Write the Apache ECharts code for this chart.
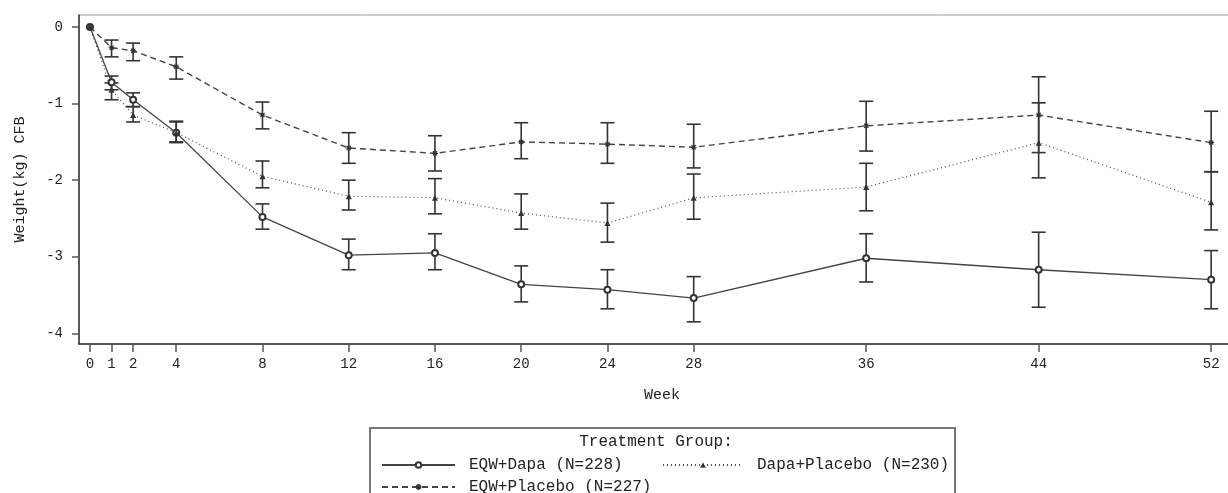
<!DOCTYPE html>
<html>
<head>
<meta charset="utf-8">
<script src="https://cdn.jsdelivr.net/npm/echarts@6/dist/echarts.min.js"></script>
<style>
html, body { margin: 0; padding: 0; background: #fff; }
#chart { width: 1228px; height: 493px; }
</style>
</head>
<body>
<div id="chart"></div>
<script>
// weeks on the x axis, and the ticks shown
var weeks = [0, 1, 2, 4, 8, 12, 16, 20, 24, 28, 36, 44, 52];
var yTicks = [-4, -3, -2, -1, 0];

var groupNames = ['EQW+Dapa (N=228)', 'Dapa+Placebo (N=230)', 'EQW+Placebo (N=227)'];

// EQW+Dapa: mean and error bar ends
var eqwDapaMean  = [0, -0.72, -0.95, -1.38, -2.48, -2.98, -2.95, -3.36, -3.43, -3.54, -3.02, -3.17, -3.30];
var eqwDapaLow   = [null, -0.82, -1.04, -1.51, -2.64, -3.17, -3.17, -3.59, -3.68, -3.85, -3.33, -3.66, -3.68];
var eqwDapaHigh  = [null, -0.64, -0.86, -1.23, -2.31, -2.77, -2.70, -3.12, -3.17, -3.26, -2.70, -2.68, -2.92];

// Dapa+Placebo
var dapaPlbMean  = [0, -0.82, -1.15, -1.38, -1.95, -2.21, -2.23, -2.43, -2.56, -2.23, -2.09, -1.51, -2.29];
var dapaPlbLow   = [null, -0.95, -1.24, -1.50, -2.10, -2.39, -2.44, -2.64, -2.81, -2.51, -2.40, -1.97, -2.65];
var dapaPlbHigh  = [null, -0.73, -1.04, -1.24, -1.75, -2.00, -1.98, -2.18, -2.30, -1.92, -1.78, -0.99, -1.89];

// EQW+Placebo
var eqwPlbMean   = [0, -0.27, -0.31, -0.52, -1.15, -1.58, -1.65, -1.50, -1.53, -1.57, -1.29, -1.15, -1.51];
var eqwPlbLow    = [null, -0.39, -0.44, -0.68, -1.33, -1.78, -1.88, -1.72, -1.78, -1.84, -1.62, -1.64, -1.89];
var eqwPlbHigh   = [null, -0.17, -0.21, -0.39, -0.98, -1.38, -1.42, -1.25, -1.25, -1.27, -0.97, -0.65, -1.10];

var font = 'Liberation Mono';
var ink = '#333';

function pairs(ys) {
  return weeks.map(function (w, i) { return [w, ys[i]]; });
}
function bars(lo, hi) {
  var out = [];
  for (var i = 0; i < weeks.length; i++) {
    if (lo[i] == null) continue;
    out.push([weeks[i], lo[i], hi[i]]);
  }
  return out;
}

function renderBar(params, api) {
  var x = api.value(0);
  var top = api.coord([x, api.value(2)]);
  var bot = api.coord([x, api.value(1)]);
  var w = 7;
  var st = { stroke: ink, lineWidth: 1.6 };
  return {
    type: 'group',
    children: [
      { type: 'line', shape: { x1: top[0], y1: top[1], x2: bot[0], y2: bot[1] }, style: st },
      { type: 'line', shape: { x1: top[0] - w, y1: top[1], x2: top[0] + w, y2: top[1] }, style: st },
      { type: 'line', shape: { x1: bot[0] - w, y1: bot[1], x2: bot[0] + w, y2: bot[1] }, style: st }
    ]
  };
}

function barSeries(lo, hi) {
  return {
    type: 'custom',
    renderItem: renderBar,
    encode: { x: 0, y: [1, 2] },
    data: bars(lo, hi),
    silent: true,
    z: 3
  };
}

var starPath = 'path://M0,5L10,5M5,0L5,10M1.5,1.5L8.5,8.5M8.5,1.5L1.5,8.5';

function legendAt(name, left, top, width) {
  return {
    data: [name],
    left: left,
    top: top,
    itemWidth: width,
    itemHeight: 7,
    selectedMode: false,
    textStyle: { fontFamily: font, fontSize: 16, color: '#222', padding: [0, 0, 0, 9] }
  };
}

var chart = echarts.init(document.getElementById('chart'));
chart.setOption({
  animation: false,
  backgroundColor: '#fff',
  grid: {
    left: 79, top: 15, right: -17, bottom: 149,
    outerBoundsMode: 'none',
    containLabel: false,
    show: true, borderColor: '#999', borderWidth: 1
  },
  xAxis: {
    type: 'value',
    min: -0.51, max: 53.57,
    name: 'Week',
    nameLocation: 'middle',
    nameGap: 44,
    nameTextStyle: { fontFamily: font, fontSize: 15, color: '#222' },
    axisLine: { onZero: false, lineStyle: { color: ink, width: 1.5 } },
    axisTick: { length: 8, lineStyle: { color: '#555', width: 1.5 }, customValues: weeks },
    axisLabel: { customValues: weeks, fontFamily: font, fontSize: 14, color: '#222', margin: 13 },
    splitLine: { show: false }
  },
  yAxis: {
    type: 'value',
    min: -4.14, max: 0.157,
    name: 'Weight(kg) CFB',
    nameLocation: 'middle',
    nameGap: 51,
    nameTextStyle: { fontFamily: font, fontSize: 15, color: '#222' },
    axisLine: { show: true, onZero: false, lineStyle: { color: ink, width: 1.5 } },
    axisTick: { show: true, length: 7, lineStyle: { color: '#555', width: 1.5 }, customValues: yTicks },
    axisLabel: { customValues: yTicks, fontFamily: font, fontSize: 14, color: '#222', margin: 16 },
    splitLine: { show: false }
  },
  legend: [
    legendAt(groupNames[0], 376, 452, 73),
    legendAt(groupNames[1], 657, 452, 80),
    legendAt(groupNames[2], 376, 474, 73)
  ],
  graphic: [
    { type: 'rect', shape: { x: 370, y: 428, width: 585, height: 80 },
      style: { fill: 'none', stroke: '#777', lineWidth: 2 }, silent: true },
    { type: 'text', x: 656, y: 442,
      style: { text: 'Treatment Group:', fontFamily: font, fontSize: 16, fill: '#222',
               align: 'center', verticalAlign: 'middle' } }
  ],
  series: [
    barSeries(eqwDapaLow, eqwDapaHigh),
    barSeries(dapaPlbLow, dapaPlbHigh),
    barSeries(eqwPlbLow, eqwPlbHigh),
    {
      name: groupNames[0], type: 'line', data: pairs(eqwDapaMean),
      symbol: 'emptyCircle', symbolSize: 6, z: 4,
      lineStyle: { color: '#444', width: 1.3, type: 'solid' },
      itemStyle: { color: ink, borderColor: ink, borderWidth: 1.1 }
    },
    {
      name: groupNames[1], type: 'line', data: pairs(dapaPlbMean),
      symbol: 'triangle', symbolSize: 6, z: 4,
      lineStyle: { color: '#555', width: 1.3, type: [1, 3] },
      itemStyle: { color: ink }
    },
    {
      name: groupNames[2], type: 'line', data: pairs(eqwPlbMean),
      symbol: starPath, symbolSize: 6, z: 4,
      lineStyle: { color: '#444', width: 1.4, type: [6, 4] },
      itemStyle: { color: ink, borderColor: ink, borderWidth: 1.1 }
    }
  ]
});
</script>
</body>
</html>
